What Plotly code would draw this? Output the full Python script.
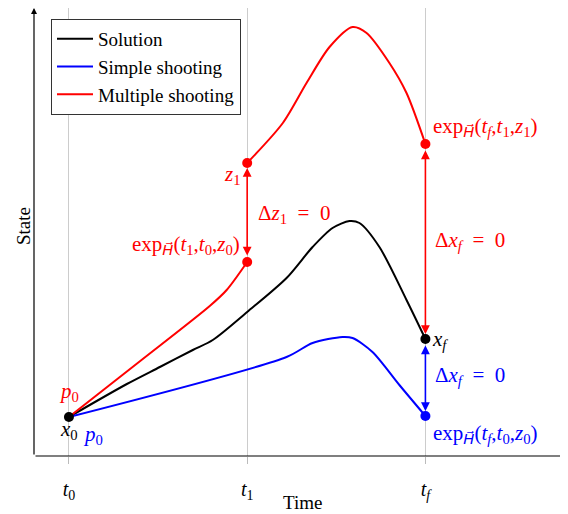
import plotly.graph_objects as go

# ---- data (t in units: t0=0, t1=1, tf=2) ----
tick_vals = [0, 1, 2]
tick_text = ["<i>t</i><sub>0</sub>", "<i>t</i><sub>1</sub>", "<i>t</i><sub><i>f</i></sub>"]

sol_t = [0, 0.325, 0.51, 0.695, 0.807, 1.0, 1.221, 1.367, 1.479, 1.574, 1.63, 1.742, 1.894, 2.0]
sol_y = [0.39, 0.72, 0.89, 1.06, 1.16, 1.44, 1.78, 2.09, 2.28, 2.35, 2.33, 2.09, 1.56, 1.17]

simple_t = [0, 1.221, 1.367, 1.535, 1.591, 1.703, 1.854, 2.0]
simple_y = [0.39, 0.99, 1.13, 1.19, 1.18, 1.04, 0.71, 0.40]

multi1_t = [0, 0.4, 0.79, 0.885, 1.0]
multi1_y = [0.39, 0.95, 1.50, 1.66, 1.94]
multi2_t = [1.0, 1.2, 1.333, 1.462, 1.591, 1.67, 1.798, 1.894, 2.0]
multi2_y = [2.93, 3.33, 3.73, 4.09, 4.29, 4.23, 3.93, 3.63, 3.12]

x0 = (0, 0.39)
xf = (2, 1.17)
red_pts_t = [1, 1, 2]
red_pts_y = [1.94, 2.93, 3.12]
blue_pt = (2, 0.40)

XR = [-0.196, 2.80]
YR = [0, 4.48]

FONT = "Liberation Serif"
RED = "#ff0000"
BLUE = "#0000ff"
SM = 0.8

# page body has an 8px margin: the figure is sized so the plot lands where the reference has it
W, H = 560, 506
ML, MT, PW, PH = 26, 0, 534, 448

fig = go.Figure()
fig.add_trace(go.Scatter(x=sol_t, y=sol_y, mode="lines", name="Solution",
                         line=dict(color="black", width=2, shape="spline", smoothing=SM)))
fig.add_trace(go.Scatter(x=simple_t, y=simple_y, mode="lines", name="Simple shooting",
                         line=dict(color=BLUE, width=2, shape="spline", smoothing=SM)))
fig.add_trace(go.Scatter(x=multi1_t + [None] + multi2_t, y=multi1_y + [None] + multi2_y,
                         mode="lines", name="Multiple shooting", connectgaps=False,
                         line=dict(color=RED, width=2, shape="spline", smoothing=SM)))
# dots
fig.add_trace(go.Scatter(x=red_pts_t, y=red_pts_y, mode="markers", showlegend=False,
                         marker=dict(color=RED, size=10)))
fig.add_trace(go.Scatter(x=[blue_pt[0]], y=[blue_pt[1]], mode="markers", showlegend=False,
                         marker=dict(color=BLUE, size=10)))
fig.add_trace(go.Scatter(x=[x0[0], xf[0]], y=[x0[1], xf[1]], mode="markers", showlegend=False,
                         marker=dict(color="black", size=10)))

ann = []
# axis arrows
ann.append(dict(x=XR[1] - 0.01, y=0, ax=XR[0], ay=0, xref="x", yref="y", axref="x", ayref="y",
                showarrow=True, arrowhead=2, arrowsize=1, arrowwidth=1.2, arrowcolor="black", text=""))
ann.append(dict(x=XR[0], y=YR[1], ax=XR[0], ay=0, xref="x", yref="y", axref="x", ayref="y",
                showarrow=True, arrowhead=2, arrowsize=1, arrowwidth=1.2, arrowcolor="black", text=""))


def dbl_arrow(xa, ya, xb, yb, color):
    return dict(x=xb, y=yb, ax=xa, ay=ya, xref="x", yref="y", axref="x", ayref="y",
                showarrow=True, arrowhead=2, arrowside="end+start", arrowsize=1.1,
                arrowwidth=1.6, arrowcolor=color, standoff=5, startstandoff=5, text="")


ann.append(dbl_arrow(1, 1.94, 1, 2.93, RED))
ann.append(dbl_arrow(2, 3.12, 2, 1.17, RED))
ann.append(dbl_arrow(2, 1.17, 2, 0.40, BLUE))


def label(x, y, text, color, xanchor="center", size=21):
    return dict(x=x, y=y, xref="x", yref="y", text=text, showarrow=False,
                xanchor=xanchor, yanchor="middle", font=dict(family=FONT, size=size, color=color))


EXPH = "exp<sub><span style=\"font-family:'DejaVu Sans';font-style:italic\">H\u20d7</span></sub>"
EQ0 = "\u2002=\u20020"
ann += [
    label(0, 0.64, "<i>p</i><sub>0</sub>", RED),
    label(0, 0.26, "<i>x</i><sub>0</sub>", "black"),
    label(0.135, 0.21, "<i>p</i><sub>0</sub>", BLUE),
    label(0.975, 2.81, "<i>z</i><sub>1</sub>", RED, "right"),
    label(0.97, 2.11, EXPH + "(<i>t</i><sub>1</sub>,<i>t</i><sub>0</sub>,<i>z</i><sub>0</sub>)", RED, "right"),
    label(1.048, 2.42, "Δ<i>z</i><sub>1</sub>" + EQ0, RED, "left"),
    label(2.034, 3.29, EXPH + "(<i>t<sub>f</sub></i>,<i>t</i><sub>1</sub>,<i>z</i><sub>1</sub>)", RED, "left"),
    label(2.04, 2.15, "Δ<i>x<sub>f</sub></i>" + EQ0, RED, "left"),
    label(2.028, 1.16, "<i>x<sub>f</sub></i>", "black", "left"),
    label(2.04, 0.80, "Δ<i>x<sub>f</sub></i>" + EQ0, BLUE, "left"),
    label(2.034, 0.22, EXPH + "(<i>t<sub>f</sub></i>,<i>t</i><sub>0</sub>,<i>z</i><sub>0</sub>)", BLUE, "left"),
]
# axis titles (positions given in reference window pixels)
ann.append(dict(x=(302 - 34) / PW, y=(456 - 503) / PH, xref="paper", yref="paper", text="Time",
                showarrow=False, xanchor="center", yanchor="middle",
                font=dict(family=FONT, size=19, color="black")))
ann.append(dict(x=(23 - 34) / PW, y=(456 - 226) / PH, xref="paper", yref="paper", text="State",
                showarrow=False, xanchor="center", yanchor="middle", textangle=-90,
                font=dict(family=FONT, size=19, color="black")))

fig.update_layout(
    width=W, height=H,
    margin=dict(l=ML, r=W - ML - PW, t=MT, b=H - MT - PH, autoexpand=False),
    plot_bgcolor="white", paper_bgcolor="white",
    font=dict(family=FONT, size=20, color="black"),
    annotations=ann,
    showlegend=True,
    legend=dict(x=(51 - 34) / PW, y=1 - (19 - 8) / PH, xanchor="left", yanchor="top",
                bgcolor="white", bordercolor="#333333", borderwidth=1,
                font=dict(family=FONT, size=19), tracegroupgap=0, itemwidth=36),
    xaxis=dict(range=XR, tickvals=tick_vals, ticktext=tick_text, showgrid=True,
               gridcolor="#cccccc", gridwidth=1, zeroline=False, showline=False,
               ticks="outside", ticklen=7, tickcolor="#bbbbbb", ticklabelstandoff=8,
               tickfont=dict(family=FONT, size=20), automargin=False),
    yaxis=dict(range=YR, showticklabels=False, showgrid=False, zeroline=False,
               showline=False, ticks="", automargin=False),
)

fig.write_html("out.html")
